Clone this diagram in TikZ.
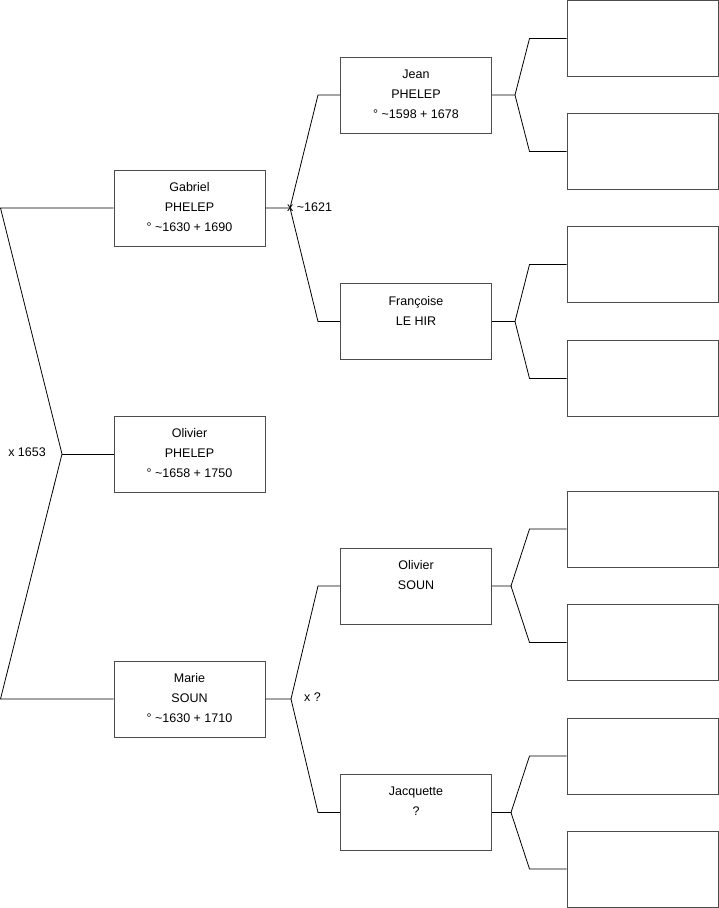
\documentclass[tikz,border=0pt]{standalone}
\usepackage{fontspec}
\setmainfont{Liberation Sans}
\usetikzlibrary{positioning}

\tikzset{
  person/.style={draw=black!70,line width=1pt,minimum width=151pt,minimum height=76pt,inner sep=0pt,
    label={[anchor=north,align=center,yshift=-9.5pt,font=\fontsize{12.5}{20}\selectfont]north:#1}},
  link/.style={line width=.8pt,black},
  marr/.style={font=\fontsize{12.5}{15}\selectfont,inner sep=2pt}
}

\begin{document}
\begin{tikzpicture}[x=1pt,y=-1pt]
\useasboundingbox(0,0)rectangle(719,908);
% generation 1
\node[person={Gabriel\\PHELEP\\° \textasciitilde1630 + 1690}](gabriel)at(189.5,208){};
\node[person={Olivier\\PHELEP\\° \textasciitilde1658 + 1750}](olivier)at(189.5,454){};
\node[person={Marie\\SOUN\\° \textasciitilde1630 + 1710}](marie)at(189.5,699){};
% generation 2
\node[person={Jean\\PHELEP\\° \textasciitilde1598 + 1678}](jean)at(416,95){};
\node[person={Françoise\\LE HIR}](francoise)at(416,321.5){};
\node[person={Olivier\\SOUN}](olivsoun)at(416,586){};
\node[person={Jacquette\\?}](jacquette)at(416,812.5){};
% generation 3, empty
\foreach\i/\y in{1/38.5,2/151.5,3/264.5,4/378.5,5/529,6/642.5,7/756,8/869}
  \node[person={}](anc\i)at(642.5,\y){};
% couple of the parents
\coordinate(tl)at(0.5,208);\coordinate(bl)at(0.5,699);\coordinate(cj)at(62,454);
\draw[link](gabriel.west)--(tl)--(cj)--(bl)--(marie.west);\draw[link](cj)--(olivier.west);
\node[marr,anchor=east]at([xshift=-14pt,yshift=2pt]cj){x 1653};
% Gabriel's parents
\coordinate(gj)at(290,208);\coordinate(gu)at(318,95);\coordinate(gd)at(318,321.5);
\draw[link](gabriel.east)--(gj)--(gu)--(jean.west);\draw[link](gj)--(gd)--(francoise.west);
\node[marr,anchor=west]at([xshift=-5pt,yshift=1pt]gj){x \textasciitilde1621};
% Marie's parents
\coordinate(mj)at(291,699);\coordinate(mu)at(318,586);\coordinate(md)at(318,812.5);
\draw[link](marie.east)--(mj)--(mu)--(olivsoun.west);\draw[link](mj)--(md)--(jacquette.west);
\node[marr,anchor=west]at([xshift=11pt,yshift=2pt]mj){x ?};
% grandparents
\foreach\p/\a/\b/\x in{jean/anc1/anc2/515,francoise/anc3/anc4/515,olivsoun/anc5/anc6/511,jacquette/anc7/anc8/511}{
  \coordinate(\p j)at(\x,0|-\p.east);
  \draw[link](\p.east)--(\p j)--([xshift=-37pt]\a.west)--(\a.west);
  \draw[link](\p j)--([xshift=-37pt]\b.west)--(\b.west);}
\end{tikzpicture}
\end{document}
